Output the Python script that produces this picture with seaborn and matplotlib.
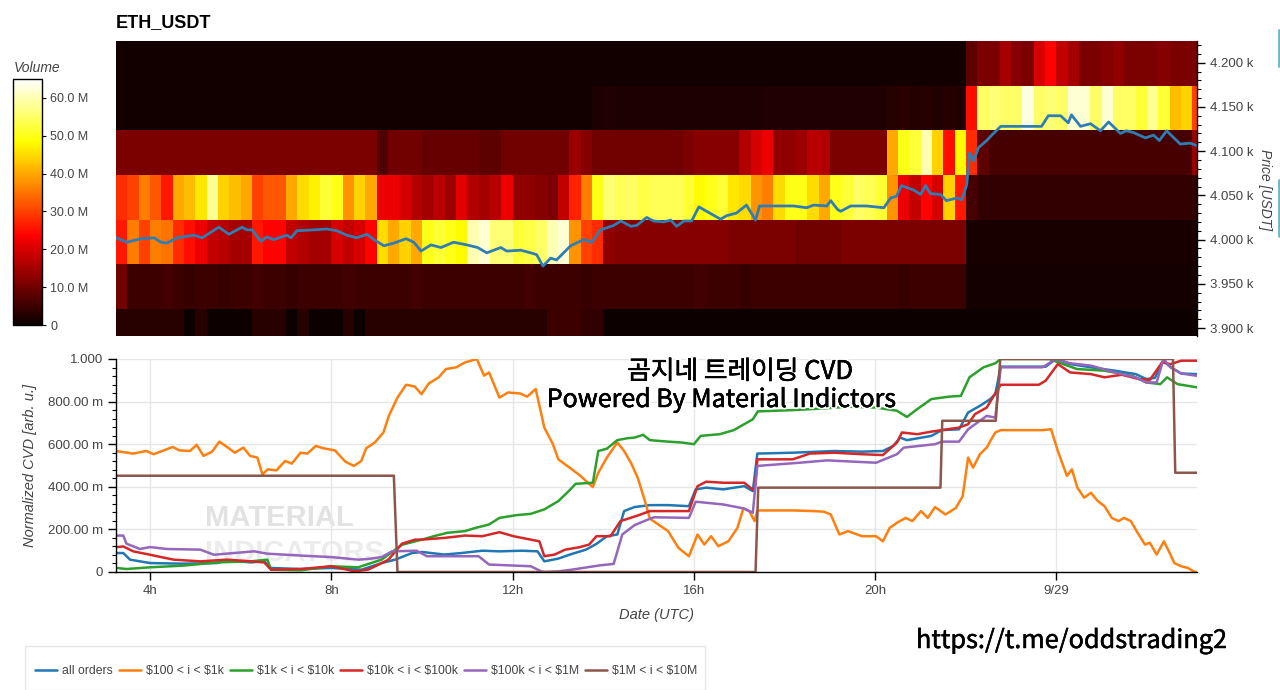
import matplotlib
matplotlib.use("Agg")
import matplotlib.pyplot as plt
import matplotlib.patheffects as pe
from matplotlib.lines import Line2D
from matplotlib.patches import Rectangle
from matplotlib.ticker import FuncFormatter, MultipleLocator
import pandas as pd
import seaborn as sns

# ---------------- heatmap: volume (M USDT) per price band ----------------
# 15 minute columns starting 03:15 UTC (9/28), bands listed top -> bottom
HM_START = 3.25
HM_STEP = 0.25
PRICE_EDGES = [3871, 3921.5, 3972, 4022.5, 4073, 4123.5, 4174, 4224.5]

VOL_4199 = [0.8, 0.8, 0.8, 0.8, 0.8, 0.8, 0.8, 0.8, 0.8, 0.8, 0.8, 0.8, 0.8, 0.8, 0.8, 0.8,
            0.8, 0.8, 0.8, 0.8, 0.8, 0.8, 0.8, 0.8, 0.8, 0.8, 0.8, 0.8, 0.8, 0.8, 0.8, 0.8,
            0.8, 0.8, 0.8, 0.8, 0.8, 0.8, 0.8, 0.8, 0.8, 0.8, 0.8, 0.8, 0.8, 0.8, 0.8, 0.8,
            0.8, 0.8, 0.8, 0.8, 0.8, 0.8, 0.8, 0.8, 0.8, 0.8, 0.8, 0.8, 0.8, 0.8, 0.8, 0.8,
            0.8, 0.8, 0.8, 0.8, 0.8, 0.8, 0.8, 0.8, 0.8, 0.8, 0.8, 8, 11, 11, 15, 12,
            11, 20, 24, 18, 15, 11, 11, 12, 13, 11, 11, 11, 12, 11, 11, 11]
VOL_4148 = [0.8, 0.8, 0.8, 0.8, 0.8, 0.8, 0.8, 0.8, 0.8, 0.8, 0.8, 0.8, 0.8, 0.8, 0.8, 0.8,
            0.8, 0.8, 0.8, 0.8, 0.8, 0.8, 0.8, 0.8, 0.8, 0.8, 0.8, 0.8, 0.8, 0.8, 0.8, 0.8,
            0.8, 0.8, 0.8, 0.8, 0.8, 0.8, 0.8, 0.8, 0.8, 0.8, 1.8, 2.2, 1.8, 1.8, 1.8, 1.8,
            1.8, 1.8, 1.8, 2, 2, 2, 2, 2, 2, 2.2, 2.2, 2.2, 2.2, 2.2, 2.2, 2.2,
            2.2, 2.2, 2.2, 2.2, 3, 3.5, 2.6, 3, 2.2, 2.6, 2.2, 25, 55, 56, 55, 55,
            63, 55, 56, 55, 62, 62, 55, 62, 55, 55, 52, 58, 52, 42, 44, 30]
VOL_4098 = [11, 11, 11, 11, 11, 11, 11, 11, 11, 11, 11, 11, 11, 11, 11, 11,
            11, 11, 11, 11, 11, 11, 11, 7, 10, 10, 10, 9, 9, 9, 9, 9,
            8, 8, 10, 10, 10, 10, 10, 10, 14, 12, 10, 10, 10, 10, 10, 10,
            10, 10, 11, 12, 12, 12, 12, 16, 20, 22, 13, 13, 14, 17, 16, 11,
            11, 11, 11, 11, 40, 50, 52, 60, 44, 25, 48, 28, 8, 6, 6, 6,
            6, 6, 6, 6, 6, 6, 6, 6, 6, 6, 6, 6, 6, 6, 6, 14]
VOL_4047 = [28, 30, 36, 32, 26, 40, 42, 46, 58, 44, 42, 40, 30, 32, 32, 40,
            45, 47, 52, 50, 38, 44, 40, 22, 22, 20, 16, 15, 17, 14, 21, 16,
            15, 17, 22, 13, 13, 12, 11, 18, 27, 36, 50, 56, 54, 55, 53, 54,
            54, 54, 52, 48, 50, 52, 46, 45, 38, 36, 45, 50, 50, 45, 40, 50,
            52, 55, 54, 52, 38, 22, 18, 24, 20, 44, 26, 6, 4, 4, 4, 4,
            4, 4, 4, 4, 4, 4, 4, 4, 4, 4, 4, 4, 4, 4, 4, 4]
VOL_3997 = [26, 36, 30, 36, 35, 28, 25, 22, 18, 17, 15, 15, 26, 24, 24, 18,
            16, 15, 15, 20, 18, 20, 24, 45, 40, 44, 40, 50, 52, 50, 48, 60,
            62, 56, 56, 52, 53, 55, 60, 62, 38, 30, 28, 13, 12, 12, 12, 12,
            12, 12, 12, 12, 12, 12, 11, 11, 11, 11, 11, 11, 10, 10, 10, 10,
            11, 11, 11, 11, 11, 11, 11, 11, 11, 11, 11, 1.5, 1.5, 1.5, 1.5, 1.5,
            1.5, 1.5, 1.5, 1.5, 1.5, 1.5, 1.5, 1.5, 1.5, 1.5, 1.5, 1.5, 1.5, 1.5, 1.5, 1.5]
VOL_3947 = [10, 5, 5, 5, 5.5, 5, 4.5, 5, 5, 4.5, 5, 5, 5.5, 5, 5, 4.5,
            5, 5, 5, 5, 5.5, 5, 5, 5, 5, 5, 5.5, 5, 5, 5, 5, 5,
            5, 5, 5, 5, 5.5, 5, 5, 5, 5, 4.5, 5, 5, 5, 5, 5, 5,
            5, 5, 5, 5.5, 5, 5, 5, 4.5, 5, 5, 5, 5, 5, 5, 5, 5,
            5, 5, 5, 5, 5, 4.5, 5, 5, 5, 5, 5, 1.2, 1.2, 1.2, 1.2, 1.2,
            1.2, 1.2, 1.2, 1.2, 1.2, 1.2, 1.2, 1.2, 1.2, 1.2, 1.2, 1.2, 1.2, 1.2, 1.2, 1.2]
VOL_3896 = [3, 3, 3, 3, 3, 3, 0.5, 3, 0.5, 0.5, 0.5, 0.5, 3, 3, 3, 0.5,
            3, 0.5, 0.5, 0.5, 3, 0.5, 3, 3, 3, 3, 3, 3, 3, 3, 3, 3,
            3, 3, 3, 3, 3, 3, 5, 5, 5, 4, 4, 0.5, 0.5, 0.5, 0.5, 0.5,
            0.5, 0.5, 0.5, 0.5, 0.5, 0.5, 0.5, 0.5, 0.5, 0.5, 0.5, 0.5, 0.5, 0.5, 0.5, 0.5,
            0.5, 0.5, 0.5, 0.5, 0.5, 0.5, 0.5, 0.5, 0.5, 0.5, 0.5, 0.5, 0.5, 0.5, 0.5, 0.5,
            0.5, 0.5, 0.5, 0.5, 0.5, 0.5, 0.5, 0.5, 0.5, 0.5, 0.5, 0.5, 0.5, 0.5, 0.5, 0.5]

# ---------------- price line (hours UTC, USDT) ----------------
PRICE_T = [3.25, 3.49, 3.80, 4.09, 4.24, 4.37, 4.60, 4.97, 5.15, 5.52,
           5.74, 6.03, 6.14, 6.25, 6.45, 6.58, 6.73, 7.02, 7.11, 7.24,
           7.62, 7.90, 8.12, 8.34, 8.56, 8.79, 8.94, 9.16, 9.38, 9.65,
           9.82, 9.98, 10.20, 10.42, 10.70, 10.99, 11.23, 11.43, 11.74, 11.87,
           12.18, 12.40, 12.53, 12.67, 12.84, 12.97, 13.28, 13.57, 13.75, 13.94,
           14.23, 14.39, 14.61, 14.74, 14.96, 15.11, 15.33, 15.49, 15.62, 15.78,
           15.95, 16.11, 16.28, 16.59, 16.72, 16.94, 17.16, 17.36, 17.45, 17.76,
           18.20, 18.49, 18.64, 18.93, 19.02, 19.17, 19.24, 19.46, 19.81, 20.19,
           20.34, 20.47, 20.58, 20.85, 21.00, 21.11, 21.22, 21.44, 21.57, 21.80,
           21.91, 22.02, 22.08, 22.17, 22.28, 22.46, 22.57, 22.77, 23.21, 23.67,
           23.82, 24.09, 24.26, 24.33, 24.53, 24.75, 24.97, 25.15, 25.41, 25.54,
           25.70, 25.96, 26.14, 26.27, 26.43, 26.73, 26.95, 27.11]
PRICE_V = [4002, 3997, 4001, 4002, 3997, 3996, 4002, 4005, 4002, 4014,
           4006, 4014, 4011, 4011, 3998, 4003, 4000, 4005, 4002, 4010,
           4011, 4012, 4010, 4005, 4002, 4006, 4000, 3993, 3996, 4001,
           3997, 3987, 3994, 3991, 3997, 3994, 3991, 3985, 3991, 3987,
           3988, 3985, 3983, 3970, 3979, 3977, 3993, 4000, 3997, 4011,
           4016, 4021, 4015, 4016, 4025, 4021, 4020, 4022, 4015, 4021,
           4021, 4037, 4032, 4023, 4027, 4030, 4039, 4022, 4038, 4038,
           4038, 4036, 4039, 4038, 4044, 4034, 4032, 4038, 4038, 4036,
           4047, 4049, 4061, 4056, 4051, 4061, 4052, 4051, 4044, 4047,
           4045, 4062, 4098, 4089, 4104, 4112, 4118, 4128, 4128, 4128,
           4140, 4140, 4132, 4141, 4128, 4131, 4123, 4133, 4120, 4123,
           4121, 4115, 4118, 4112, 4123, 4108, 4109, 4106]

# ---------------- normalized CVD per order size ----------------
CVD_ALL_T = [3.26, 3.41, 3.56, 4.0, 4.74, 5.48, 5.70, 6.22, 6.52, 6.67,
             7.33, 8.0, 8.67, 9.11, 9.41, 9.78, 10.0, 10.49, 10.87, 11.33,
             11.71, 12.21, 12.55, 12.70, 13.01, 13.31, 13.62, 13.85, 14.08, 14.31,
             14.46, 14.69, 15.03, 15.43, 15.89, 16.04, 16.27, 16.65, 17.11, 17.30,
             17.40, 18.18, 19.10, 19.71, 20.17, 20.40, 20.55, 20.70, 21.24, 21.47,
             21.85, 22.05, 22.31, 22.54, 22.65, 22.77, 23.76, 23.99, 24.30, 24.76,
             25.29, 25.75, 25.98, 26.17, 26.36, 26.52, 26.75, 27.1]
CVD_ALL_V = [0.089, 0.089, 0.058, 0.042, 0.039, 0.042, 0.055, 0.045, 0.05, 0.019,
             0.014, 0.019, 0.011, 0.042, 0.058, 0.089, 0.094, 0.082, 0.089, 0.100,
             0.097, 0.100, 0.097, 0.050, 0.063, 0.085, 0.105, 0.132, 0.168, 0.176,
             0.286, 0.305, 0.314, 0.314, 0.309, 0.388, 0.396, 0.388, 0.403, 0.380,
             0.556, 0.560, 0.568, 0.565, 0.568, 0.592, 0.631, 0.619, 0.639, 0.666,
             0.670, 0.749, 0.780, 0.812, 0.835, 0.964, 0.964, 1.0, 0.976, 0.961,
             0.945, 0.929, 0.906, 0.911, 0.992, 0.961, 0.932, 0.929]

CVD_100_T = [3.25, 3.62, 3.92, 4.08, 4.23, 4.50, 4.65, 4.88, 5.03, 5.18,
             5.37, 5.53, 5.72, 5.87, 6.06, 6.21, 6.37, 6.48, 6.60, 6.79,
             6.98, 7.13, 7.32, 7.47, 7.66, 7.82, 8.08, 8.31, 8.50, 8.66,
             8.77, 8.96, 9.15, 9.27, 9.46, 9.65, 9.84, 9.99, 10.15, 10.37,
             10.53, 10.76, 10.95, 11.21, 11.37, 11.48, 11.71, 11.90, 12.17, 12.32,
             12.51, 12.70, 12.89, 13.01, 13.16, 13.31, 13.50, 13.66, 13.77, 13.89,
             14.08, 14.31, 14.46, 14.61, 14.76, 14.92, 15.03, 15.43, 15.66, 15.89,
             16.08, 16.23, 16.38, 16.54, 16.76, 16.96, 17.09, 17.22, 17.34, 17.40,
             18.18, 18.64, 18.87, 19.02, 19.21, 19.40, 19.71, 20.02, 20.17, 20.32,
             20.48, 20.67, 20.82, 21.01, 21.16, 21.32, 21.55, 21.78, 21.93, 22.05,
             22.16, 22.31, 22.46, 22.54, 22.65, 22.77, 23.69, 23.88, 24.03, 24.23,
             24.34, 24.46, 24.61, 24.76, 24.91, 25.06, 25.22, 25.37, 25.49, 25.64,
             25.79, 25.95, 26.06, 26.21, 26.37, 26.48, 26.60, 26.75, 26.90, 27.05,
             27.1]
CVD_100_V = [0.568, 0.556, 0.568, 0.553, 0.565, 0.587, 0.571, 0.568, 0.597, 0.545,
             0.565, 0.612, 0.584, 0.560, 0.584, 0.545, 0.537, 0.458, 0.482, 0.477,
             0.521, 0.509, 0.560, 0.556, 0.592, 0.581, 0.571, 0.518, 0.498, 0.521,
             0.581, 0.608, 0.655, 0.733, 0.819, 0.879, 0.871, 0.835, 0.885, 0.914,
             0.953, 0.961, 0.984, 1.0, 0.922, 0.937, 0.819, 0.843, 0.838, 0.823,
             0.859, 0.678, 0.600, 0.529, 0.505, 0.482, 0.451, 0.419, 0.399, 0.466,
             0.537, 0.608, 0.568, 0.513, 0.443, 0.333, 0.25, 0.192, 0.113, 0.074,
             0.176, 0.129, 0.168, 0.121, 0.144, 0.207, 0.298, 0.286, 0.239, 0.289,
             0.289, 0.286, 0.283, 0.270, 0.176, 0.192, 0.168, 0.168, 0.144, 0.207,
             0.231, 0.254, 0.239, 0.286, 0.254, 0.305, 0.270, 0.301, 0.356, 0.537,
             0.490, 0.553, 0.584, 0.615, 0.655, 0.666, 0.666, 0.670, 0.568, 0.451,
             0.482, 0.396, 0.349, 0.372, 0.333, 0.309, 0.254, 0.239, 0.254, 0.239,
             0.184, 0.129, 0.137, 0.082, 0.144, 0.097, 0.042, 0.027, 0.019, 0.0,
             0.0]

CVD_1K_T = [3.26, 3.48, 4.0, 4.74, 5.48, 6.22, 6.59, 6.67, 7.33, 8.0,
            8.59, 9.11, 9.56, 10.0, 10.26, 10.56, 10.95, 11.18, 11.48, 11.71,
            12.09, 12.40, 12.70, 13.01, 13.24, 13.39, 13.77, 13.89, 14.08, 14.31,
            14.53, 14.69, 14.88, 15.03, 15.43, 15.73, 16.0, 16.15, 16.57, 16.88,
            17.11, 17.30, 17.41, 18.18, 18.94, 19.40, 20.02, 20.48, 20.70, 20.93,
            21.24, 21.62, 21.89, 22.08, 22.39, 22.65, 22.77, 23.84, 24.15, 24.45,
            25.06, 25.67, 25.98, 26.29, 26.44, 26.67, 27.1]
CVD_1K_V = [0.019, 0.014, 0.022, 0.03, 0.045, 0.05, 0.058, 0.011, 0.008, 0.027,
            0.022, 0.058, 0.128, 0.152, 0.168, 0.184, 0.192, 0.207, 0.223, 0.254,
            0.267, 0.273, 0.294, 0.333, 0.380, 0.414, 0.419, 0.568, 0.579, 0.619,
            0.628, 0.631, 0.644, 0.619, 0.612, 0.608, 0.600, 0.639, 0.647, 0.666,
            0.694, 0.717, 0.754, 0.760, 0.769, 0.776, 0.772, 0.757, 0.728, 0.765,
            0.812, 0.823, 0.827, 0.914, 0.961, 0.980, 1.0, 1.0, 0.976, 0.953,
            0.945, 0.921, 0.890, 0.882, 0.914, 0.882, 0.867]

CVD_10K_T = [3.26, 3.41, 3.63, 4.0, 4.52, 5.11, 5.70, 6.22, 6.52, 6.67,
             7.33, 8.0, 8.52, 8.81, 9.04, 9.26, 9.56, 9.85, 10.0, 10.49,
             10.95, 11.33, 11.71, 12.02, 12.40, 12.59, 12.70, 12.93, 13.16, 13.47,
             13.69, 13.85, 14.16, 14.38, 14.76, 15.03, 15.89, 16.08, 16.27, 16.65,
             17.11, 17.34, 17.40, 18.18, 18.56, 19.10, 19.71, 20.17, 20.48, 20.59,
             20.93, 21.24, 21.85, 22.05, 22.20, 22.46, 22.65, 22.77, 23.61, 23.76,
             24.03, 24.30, 24.76, 25.06, 25.44, 25.82, 26.06, 26.33, 26.52, 26.75, 27.1]
CVD_10K_V = [0.117, 0.12, 0.097, 0.081, 0.058, 0.05, 0.058, 0.05, 0.045, 0.011,
             0.014, 0.027, 0.003, 0.011, 0.034, 0.058, 0.133, 0.152, 0.152, 0.160,
             0.171, 0.168, 0.187, 0.168, 0.152, 0.144, 0.074, 0.082, 0.105, 0.116,
             0.129, 0.168, 0.168, 0.239, 0.265, 0.286, 0.286, 0.403, 0.424, 0.419,
             0.419, 0.380, 0.529, 0.529, 0.556, 0.560, 0.553, 0.549, 0.608, 0.655,
             0.647, 0.659, 0.678, 0.694, 0.741, 0.772, 0.839, 0.879, 0.879, 0.898,
             0.976, 0.937, 0.929, 0.914, 0.926, 0.906, 0.902, 0.984, 0.976, 0.992, 0.992]

CVD_100K_T = [3.26, 3.41, 3.48, 3.78, 4.0, 4.37, 5.11, 5.41, 5.85, 6.30,
              6.59, 7.33, 8.0, 8.59, 8.81, 9.11, 9.34, 9.88, 10.11, 10.49,
              11.25, 11.48, 12.40, 12.63, 12.70, 13.01, 13.31, 13.92, 14.23, 14.42,
              14.69, 15.03, 15.12, 15.89, 16.04, 16.65, 17.11, 17.30, 17.40, 18.33,
              18.94, 20.02, 20.48, 20.63, 21.32, 21.47, 21.85, 22.05, 22.46, 22.65,
              22.77, 23.69, 23.99, 24.30, 24.76, 25.29, 25.75, 25.98, 26.21, 26.36,
              26.52, 26.75, 27.1]
CVD_100K_V = [0.171, 0.171, 0.133, 0.108, 0.117, 0.108, 0.105, 0.081, 0.089, 0.097,
              0.086, 0.077, 0.070, 0.058, 0.061, 0.070, 0.097, 0.100, 0.074, 0.074,
              0.074, 0.035, 0.027, 0.003, 0.0, 0.003, 0.011, 0.031, 0.038, 0.176,
              0.22, 0.25, 0.257, 0.254, 0.330, 0.317, 0.298, 0.278, 0.498, 0.513,
              0.524, 0.513, 0.553, 0.584, 0.600, 0.612, 0.612, 0.670, 0.733, 0.725,
              0.961, 0.961, 1.0, 0.980, 0.969, 0.937, 0.914, 0.890, 0.890, 1.0,
              0.961, 0.932, 0.921]

CVD_1M_T = [3.25, 9.38, 9.46, 17.36, 17.42, 21.44, 21.48, 22.66, 22.76, 26.57, 26.62, 27.1]
CVD_1M_V = [0.452, 0.452, 0.0, 0.0, 0.396, 0.396, 0.710, 0.710, 1.0, 1.0, 0.466, 0.466]

BUCKETS = ["all orders", r"\$100 < i < \$1k", r"\$1k < i < \$10k",
           r"\$10k < i < \$100k", r"\$100k < i < \$1M", r"\$1M < i < \$10M"]
COLORS = ["#1f77b4", "#ff7f0e", "#2ca02c", "#d62728", "#9467bd", "#8c564b"]

X_TICKS = [4, 8, 12, 16, 20, 24]
X_LABELS = ["4h", "8h", "12h", "16h", "20h", "9/29"]
T_VIEW = (3.25, 27.1)
PRICE_VIEW = (3891, 4224.5)

# ---------------- figure ----------------
sns.set_theme(style="white")
plt.rcParams["font.family"] = ["Liberation Sans", "Noto Sans CJK KR", "DejaVu Sans"]
TXT = "#444444"

fig = plt.figure(figsize=(12.8, 6.9), dpi=100)
W, H = 1280, 690


def rect(x0, y0, x1, y1):
    # pixel box (top-left origin) -> figure fraction
    return [x0 / W, 1 - y1 / H, (x1 - x0) / W, (y1 - y0) / H]


ax_hm = fig.add_axes(rect(116, 41, 1197, 336))
cax = fig.add_axes(rect(13, 79, 42, 325))

vol = pd.DataFrame([VOL_4199, VOL_4148, VOL_4098, VOL_4047, VOL_3997, VOL_3947, VOL_3896])
sns.heatmap(vol, ax=ax_hm, cmap="hot", vmin=0, vmax=65, cbar_ax=cax,
            xticklabels=False, yticklabels=False, rasterized=True)
band = PRICE_EDGES[1] - PRICE_EDGES[0]
ax_hm.set_xlim(0, (T_VIEW[1] - HM_START) / HM_STEP)
ax_hm.set_ylim((PRICE_EDGES[-1] - PRICE_VIEW[0]) / band, (PRICE_EDGES[-1] - PRICE_VIEW[1]) / band)
ax_hm.set_xlabel("")
ax_hm.set_ylabel("")

cbar = ax_hm.collections[0].colorbar
cbar.set_ticks([0, 10, 20, 30, 40, 50, 60])
cbar.set_ticklabels(["0", "10.0 M", "20.0 M", "30.0 M", "40.0 M", "50.0 M", "60.0 M"])
cax.tick_params(axis="y", right=True, length=3, width=0.8, color="black",
                labelsize=9, labelcolor=TXT, pad=3)
cbar.outline.set_visible(True)
cbar.outline.set_edgecolor("black")
cbar.outline.set_linewidth(1)
fig.text(14 / W, 1 - 68 / H, "Volume", style="italic", fontsize=10, color=TXT, va="center")

# price overlay
ax_p = fig.add_axes(rect(116, 41, 1197, 336))
ax_p.patch.set_visible(False)
sns.lineplot(x=PRICE_T, y=PRICE_V, ax=ax_p, color="#2f7db5", linewidth=2, estimator=None)
ax_p.set_xlim(*T_VIEW)
ax_p.set_ylim(*PRICE_VIEW)
ax_p.set_xticks([])
ax_p.yaxis.tick_right()
ax_p.yaxis.set_major_locator(MultipleLocator(50))
ax_p.yaxis.set_minor_locator(MultipleLocator(10))
ax_p.yaxis.set_major_formatter(FuncFormatter(lambda v, p: f"{v / 1000:.3f} k"))
ax_p.tick_params(axis="y", which="major", right=True, length=6, width=1, color="black",
                 labelsize=9.5, labelcolor=TXT, pad=3, direction="out")
ax_p.tick_params(axis="y", which="minor", right=True, length=3, width=0.8, color="black",
                 direction="out")
for side in ["top", "left", "bottom"]:
    ax_p.spines[side].set_visible(False)
ax_p.spines["right"].set_color("black")
ax_p.spines["right"].set_linewidth(1)
fig.text(1265 / W, 1 - 190 / H, "Price [USDT]", rotation=270, style="italic",
         fontsize=10, color=TXT, ha="center", va="center")
fig.text(116 / W, 1 - 23 / H, "ETH_USDT", fontsize=13, fontweight="bold",
         color="black", ha="left", va="center")

# ---------------- CVD panel ----------------
ax_c = fig.add_axes(rect(116, 359, 1197, 572))
frames = []
for name, t, v in zip(BUCKETS,
                      [CVD_ALL_T, CVD_100_T, CVD_1K_T, CVD_10K_T, CVD_100K_T, CVD_1M_T],
                      [CVD_ALL_V, CVD_100_V, CVD_1K_V, CVD_10K_V, CVD_100K_V, CVD_1M_V]):
    frames.append(pd.DataFrame({"hour": t, "cvd": v, "bucket": name}))
cvd = pd.concat(frames, ignore_index=True)

ax_c.text((205 - 116) / 1081, (572 - 518) / 213, "MATERIAL", transform=ax_c.transAxes,
          fontsize=21, fontweight="bold", color="#e2e2e2", va="center", ha="left", zorder=0)
ax_c.text((205 - 116) / 1081, (572 - 553) / 213, "INDICATORS", transform=ax_c.transAxes,
          fontsize=21, fontweight="bold", color="#ececec", va="center", ha="left", zorder=0)

sns.lineplot(data=cvd, x="hour", y="cvd", hue="bucket", hue_order=BUCKETS,
             palette=COLORS, estimator=None, sort=False, linewidth=1.8, ax=ax_c)
ax_c.set_xlim(*T_VIEW)
ax_c.set_ylim(0, 1)
ax_c.set_yticks([0, 0.2, 0.4, 0.6, 0.8, 1.0])
ax_c.set_yticklabels(["0", "200.00 m", "400.00 m", "600.00 m", "800.00 m", "1.000"])
ax_c.yaxis.set_minor_locator(MultipleLocator(0.04))
ax_c.set_xticks(X_TICKS)
ax_c.set_xticklabels(X_LABELS)
ax_c.grid(True, which="major", color="#e6e6e6", linewidth=1)
ax_c.set_axisbelow(True)
ax_c.tick_params(axis="both", which="major", length=6, width=1, color="black",
                 labelsize=9.5, labelcolor=TXT, direction="out", left=True, bottom=True)
ax_c.tick_params(axis="y", which="minor", length=3, width=0.8, color="black",
                 direction="out", left=True)
for side in ["top", "right"]:
    ax_c.spines[side].set_visible(False)
for side in ["left", "bottom"]:
    ax_c.spines[side].set_color("black")
    ax_c.spines[side].set_linewidth(1)
ax_c.set_xlabel("Date (UTC)", style="italic", fontsize=10.5, color=TXT, labelpad=8)
ax_c.set_ylabel("Normalized CVD [arb. u.]", style="italic", fontsize=10.5, color=TXT, labelpad=8)

# legend: entries centred on y=671 px starting at x=35 px, faint box behind
sns.move_legend(ax_c, "center left", bbox_to_anchor=((35 - 116) / 1081, (572 - 671) / 213),
                ncol=6, title=None, frameon=False, fontsize=8.8, handlelength=1.8,
                columnspacing=0.5, handletextpad=0.4, borderpad=0, borderaxespad=0)
for text in ax_c.get_legend().get_texts():
    text.set_color(TXT)
fig.add_artist(Rectangle((25 / W, 0), 680 / W, 1 - 646 / H, transform=fig.transFigure,
                         facecolor="none", edgecolor="#e6e6e6", linewidth=1))

# overlay texts
stroke = [pe.withStroke(linewidth=3, foreground="white"),
          pe.withStroke(linewidth=0.35, foreground="black")]
fig.text(740 / W, 1 - 372 / H, "곰지네 트레이딩 CVD", fontsize=18.5, family="Noto Sans CJK KR",
         ha="center", va="center", color="black", path_effects=stroke)
fig.text(721 / W, 1 - 400 / H, "Powered By Material Indictors", fontsize=18,
         family="Noto Sans CJK KR", ha="center", va="center", color="black", path_effects=stroke)
fig.text(916 / W, 1 - 641 / H, "https://t.me/oddstrading2", fontsize=18.2,
         family="Noto Sans CJK KR", ha="left", va="center", color="black",
         path_effects=[pe.withStroke(linewidth=0.35, foreground="black")])

# clipped toolbar edges on the right border
fig.add_artist(Line2D([1278.5 / W] * 2, [1 - 30 / H, 1 - 66 / H], color="#6bb8c8", lw=2))
fig.add_artist(Line2D([1278.5 / W] * 2, [1 - 180 / H, 1 - 236 / H], color="#6bb8c8", lw=2))

fig.savefig("out.png", dpi=100)
